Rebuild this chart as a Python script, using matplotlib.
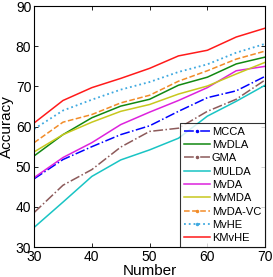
import numpy as np
import matplotlib
matplotlib.use('Agg')
import matplotlib.pyplot as plt
from matplotlib.lines import Line2D

plt.rcParams['font.family'] = ['Liberation Sans', 'DejaVu Sans']

# 橫軸: 樣本數
number = [30, 35, 40, 45, 50, 55, 60, 65, 70]

# 各方法準確率
mcca = [47.0, 51.8, 55.0, 58.0, 60.2, 63.8, 67.2, 68.9, 72.5]
mvdla = [52.7, 58.0, 62.2, 65.1, 66.8, 70.3, 72.3, 75.6, 77.3]
gma = [38.6, 45.4, 49.3, 54.9, 58.8, 59.6, 63.8, 66.8, 71.6]
mulda = [34.9, 41.2, 47.6, 51.7, 54.2, 57.1, 62.6, 66.3, 70.3]
mvda = [47.3, 52.3, 56.0, 60.5, 63.6, 66.5, 69.7, 73.9, 75.0]
mvmda = [53.7, 58.0, 61.1, 63.8, 65.5, 68.1, 70.1, 73.1, 76.0]
mvda_vc = [56.0, 61.1, 63.0, 65.9, 67.8, 71.3, 73.9, 76.8, 78.8]
mvhe = [59.4, 64.0, 66.7, 69.2, 71.1, 73.6, 75.5, 78.4, 80.6]
kmvhe = [60.9, 66.5, 69.7, 72.0, 74.5, 77.6, 79.0, 82.3, 84.5]

# (資料, 名稱, 顏色, 線型, 圖例中是否有點)
series = [
    (mcca, 'MCCA', '#0000ff', '-.', True),
    (mvdla, 'MvDLA', '#118811', '-', False),
    (gma, 'GMA', '#8c5a5a', '-.', True),
    (mulda, 'MULDA', '#19c4c4', '-', False),
    (mvda, 'MvDA', '#dd22dd', '-', False),
    (mvmda, 'MvMDA', '#c8c81e', '-', False),
    (mvda_vc, 'MvDA-VC', '#f28c28', '--', True),
    (mvhe, 'MvHE', '#3fa9e0', ':', True),
    (kmvhe, 'KMvHE', '#ff1a1a', '-', False),
]

fig = plt.figure(figsize=(2.73, 2.77), dpi=100)
ax = fig.add_axes([0.125, 0.108, 0.846, 0.870])

handles = []
for vals, name, c, ls, dot in series:
    lw = 1.3 if ls == ':' else 1.1
    ax.plot(number, vals, color=c, ls=ls, lw=lw)
    handles.append(Line2D([], [], color=c, ls=ls, lw=lw,
                          marker='.' if dot else None, ms=3, label=name))

ax.set_xlim(30, 70)
ax.set_ylim(30, 90)
ax.set_xticks([30, 40, 50, 60, 70])
ax.set_yticks([30, 40, 50, 60, 70, 80, 90])
ax.tick_params(direction='in', top=True, right=True, labelsize=10, length=3, width=0.6, pad=2)
ax.set_xlabel('Number', fontsize=11, labelpad=0)
ax.set_ylabel('Accuracy', fontsize=11, labelpad=1)

leg = ax.legend(handles=handles, loc='lower right', fontsize=8, borderaxespad=0, frameon=True,
                fancybox=False, edgecolor='black', labelspacing=0.3, handlelength=2.3,
                handletextpad=0.2, borderpad=0.35, numpoints=1)
leg.get_frame().set_linewidth(0.8)

fig.savefig('out.png', dpi=100)
